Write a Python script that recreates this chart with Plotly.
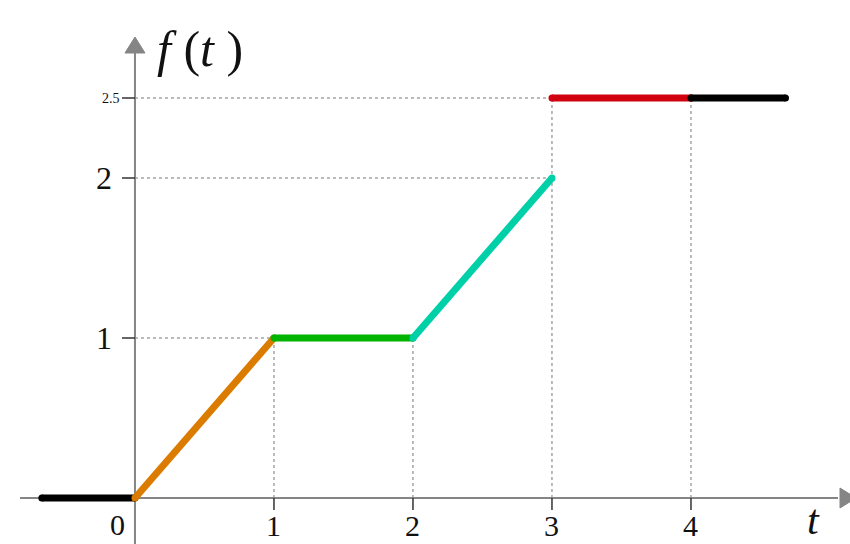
import plotly.graph_objects as go

# Piecewise function f(t): one entry per segment
seg_t = [[-0.67, 0], [0, 1], [1, 2], [2, 3], [3, 4], [4, 4.68]]
seg_f = [[0, 0], [0, 1], [1, 1], [1, 2], [2.5, 2.5], [2.5, 2.5]]
seg_colors = ["#000000", "#DB7B00", "#00B400", "#00D0A8", "#D0000E", "#000000"]

x_ticks = [1, 2, 3, 4]
y_ticks = [1, 2]
y_small_tick = 2.5

# guide lines: (t, f) corner points for dotted helpers
guide_h = [(1, 1), (3, 2), (3, 2.5)]
guide_v = [(1, 1), (2, 1), (3, 2.5), (4, 2.5)]

W, H = 850, 544
x_range = [-0.971, 5.144]
y_range = [-0.2875, 3.1125]
px_x = W / (x_range[1] - x_range[0])
px_y = H / (y_range[1] - y_range[0])

def dx(p):
    return p / px_x

def dy(p):
    return p / px_y

fig = go.Figure()
shapes = []

# dotted helper lines
for t, f in guide_h:
    shapes.append(dict(type="line", x0=0, x1=t, y0=f, y1=f,
                       line=dict(color="#777777", width=1, dash="dot"), layer="below"))
for t, f in guide_v:
    shapes.append(dict(type="line", x0=t, x1=t, y0=0, y1=f,
                       line=dict(color="#777777", width=1, dash="dot"), layer="below"))

axis_col = "#858585"
# horizontal axis with arrow
shapes.append(dict(type="line", x0=x_range[0] + dx(20), x1=x_range[1] - dx(12), y0=0, y1=0,
                   line=dict(color=axis_col, width=2), layer="below"))
tip_x = x_range[1] + dx(6)
shapes.append(dict(type="path",
                   path=f"M {tip_x - dx(16)} {dy(10)} L {tip_x} 0 L {tip_x - dx(16)} {-dy(10)} Z",
                   fillcolor=axis_col, line=dict(color=axis_col, width=1)))
# vertical axis with arrow
top_y = y_range[1] - dy(37)
shapes.append(dict(type="line", x0=0, x1=0, y0=y_range[0], y1=top_y - dy(14),
                   line=dict(color=axis_col, width=2), layer="below"))
shapes.append(dict(type="path",
                   path=f"M {-dx(10)} {top_y - dy(16)} L 0 {top_y} L {dx(10)} {top_y - dy(16)} Z",
                   fillcolor=axis_col, line=dict(color=axis_col, width=1)))

# tick marks
for t in x_ticks:
    shapes.append(dict(type="line", x0=t, x1=t, y0=0, y1=-dy(12),
                       line=dict(color="#333333", width=1.5)))
for f in y_ticks + [y_small_tick]:
    shapes.append(dict(type="line", x0=-dx(13), x1=0, y0=f, y1=f,
                       line=dict(color="#333333", width=1.5)))

# function segments with round ends
for ts, fs, c in zip(seg_t, seg_f, seg_colors):
    fig.add_trace(go.Scatter(x=ts, y=fs, mode="lines+markers",
                             line=dict(color=c, width=7),
                             marker=dict(color=c, size=7),
                             hoverinfo="skip", showlegend=False))

# stray point at the right edge
fig.add_trace(go.Scatter(x=[5.145], y=[1.29], mode="markers",
                         marker=dict(color="#000000", size=6),
                         hoverinfo="skip", showlegend=False, cliponaxis=False))

serif = "Liberation Serif"
ann = []
for t in x_ticks:
    ann.append(dict(x=t, y=0, xref="x", yref="y", text=str(t), showarrow=False,
                    yshift=-27, font=dict(family=serif, size=30, color="#111111")))
ann.append(dict(x=0, y=0, xref="x", yref="y", text="0", showarrow=False,
                xshift=-17, yshift=-26, font=dict(family=serif, size=30, color="#111111")))
for f in y_ticks:
    ann.append(dict(x=0, y=f, xref="x", yref="y", text=str(f), showarrow=False,
                    xshift=-31, font=dict(family=serif, size=32, color="#111111")))
ann.append(dict(x=0, y=y_small_tick, xref="x", yref="y", text=str(y_small_tick), showarrow=False,
                xshift=-24, font=dict(family=serif, size=14, color="#111111")))
ann.append(dict(x=4.88, y=0, xref="x", yref="y", text="<i>t</i>", showarrow=False,
                yshift=-22, font=dict(family=serif, size=42, color="#111111")))
ann.append(dict(x=0, y=top_y, xref="x", yref="y", text="<i>f</i> (<i>t</i> )", showarrow=False,
                xanchor="left", xshift=20, yshift=-12,
                font=dict(family=serif, size=50, color="#111111")))

fig.update_layout(
    width=W, height=H,
    margin=dict(l=0, r=0, t=0, b=0),
    paper_bgcolor="white", plot_bgcolor="white",
    xaxis=dict(range=x_range, visible=False, fixedrange=True),
    yaxis=dict(range=y_range, visible=False, fixedrange=True),
    shapes=shapes, annotations=ann,
)

fig.write_html("out.html")
